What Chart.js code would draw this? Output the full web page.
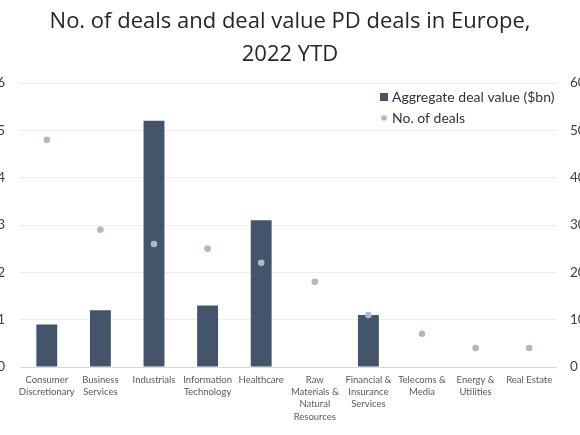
<!DOCTYPE html>
<html>
<head>
<meta charset="utf-8">
<script src="https://cdn.jsdelivr.net/npm/chart.js@4"></script>
<style>
  html, body { margin: 0; padding: 0; background: #fff; overflow: hidden; }
  .wrap { position: absolute; left: -10px; top: 0; width: 600px; height: 435px; }
</style>
</head>
<body>
<div class="wrap"><canvas id="dealChart"></canvas></div>
<script>
// data
const sectors = [
  ['Consumer', 'Discretionary'],
  ['Business', 'Services'],
  'Industrials',
  ['Information', 'Technology'],
  'Healthcare',
  ['Raw', 'Materials &', 'Natural', 'Resources'],
  ['Financial &', 'Insurance', 'Services'],
  ['Telecoms &', 'Media'],
  ['Energy &', 'Utilities'],
  'Real Estate'
];
const dealValue = [0.9, 1.2, 5.2, 1.3, 3.1, 0, 1.1, 0, 0, 0];
const dealCount = [48, 29, 26, 25, 22, 18, 11, 7, 4, 4];
const valueTicks = [0, 1, 2, 3, 4, 5, 6];
const countTicks = [0, 10, 20, 30, 40, 50, 60];

const barColor = '#44546a';
const dotColor = '#adb9ca';
const fontFamily = 'Lato, "Open Sans", sans-serif';
const titleFont = '"Open Sans", Lato, sans-serif';

// legend drawn inside the plot area, top right
const innerLegend = {
  id: 'innerLegend',
  afterDraw(chart) {
    const ctx = chart.ctx;
    const area = chart.chartArea;
    const x = area.left + 360;
    ctx.save();
    ctx.font = '14px ' + fontFamily;
    ctx.textBaseline = 'middle';
    ctx.fillStyle = barColor;
    ctx.fillRect(x, area.top + 10, 8, 8);
    ctx.fillStyle = '#333';
    ctx.fillText(chart.data.datasets[0].label, x + 12, area.top + 14);
    ctx.fillStyle = dotColor;
    ctx.beginPath();
    ctx.arc(x + 4, area.top + 35, 2.8, 0, Math.PI * 2);
    ctx.fill();
    ctx.fillStyle = '#333';
    ctx.fillText(chart.data.datasets[1].label, x + 12, area.top + 35);
    ctx.restore();
  }
};

const ctx = document.querySelector('#dealChart').getContext('2d');
const dealChart = new Chart(ctx, {
  type: 'bar',
  data: {
    labels: sectors,
    datasets: [{
      label: 'Aggregate deal value ($bn)',
      data: dealValue,
      backgroundColor: barColor,
      yAxisID: 'y',
      barPercentage: 0.78,
      categoryPercentage: 0.5,
      order: 2
    }, {
      type: 'line',
      label: 'No. of deals',
      data: dealCount,
      yAxisID: 'y1',
      showLine: false,
      pointRadius: 3.3,
      pointHoverRadius: 3.3,
      pointBackgroundColor: dotColor,
      pointBorderWidth: 0,
      order: 1
    }]
  },
  options: {
    responsive: true,
    maintainAspectRatio: false,
    animation: false,
    layout: { padding: 0 },
    plugins: {
      legend: { display: false },
      tooltip: { enabled: false },
      title: {
        display: true,
        text: ['No. of deals and deal value PD deals in Europe,', '2022 YTD'],
        color: '#262626',
        font: { family: titleFont, size: 22, weight: 'normal', lineHeight: 1.5 },
        padding: { top: 5, bottom: 12 }
      }
    },
    scales: {
      x: {
        grid: { display: false, drawTicks: false },
        border: { color: '#d9d9d9' },
        ticks: {
          color: '#595959',
          font: { family: fontFamily, size: 9.5, lineHeight: 1.28 },
          maxRotation: 0,
          autoSkip: false,
          padding: 7
        },
        afterFit(scale) { scale.height = 68; }
      },
      y: {
        position: 'left',
        min: 0,
        max: 6,
        afterBuildTicks(scale) { scale.ticks = valueTicks.map(v => ({ value: v })); },
        grid: { color: '#ececec', drawTicks: false },
        border: { display: false },
        ticks: { color: '#404040', font: { family: fontFamily, size: 13.5 }, padding: 15 },
        afterFit(scale) { scale.width = 30; }
      },
      y1: {
        position: 'right',
        min: 0,
        max: 60,
        afterBuildTicks(scale) { scale.ticks = countTicks.map(v => ({ value: v })); },
        grid: { display: false, drawTicks: false },
        border: { display: false },
        ticks: { color: '#404040', font: { family: fontFamily, size: 13.5 }, padding: 14 },
        afterFit(scale) { scale.width = 34; }
      }
    }
  },
  plugins: [innerLegend]
});
</script>
</body>
</html>
